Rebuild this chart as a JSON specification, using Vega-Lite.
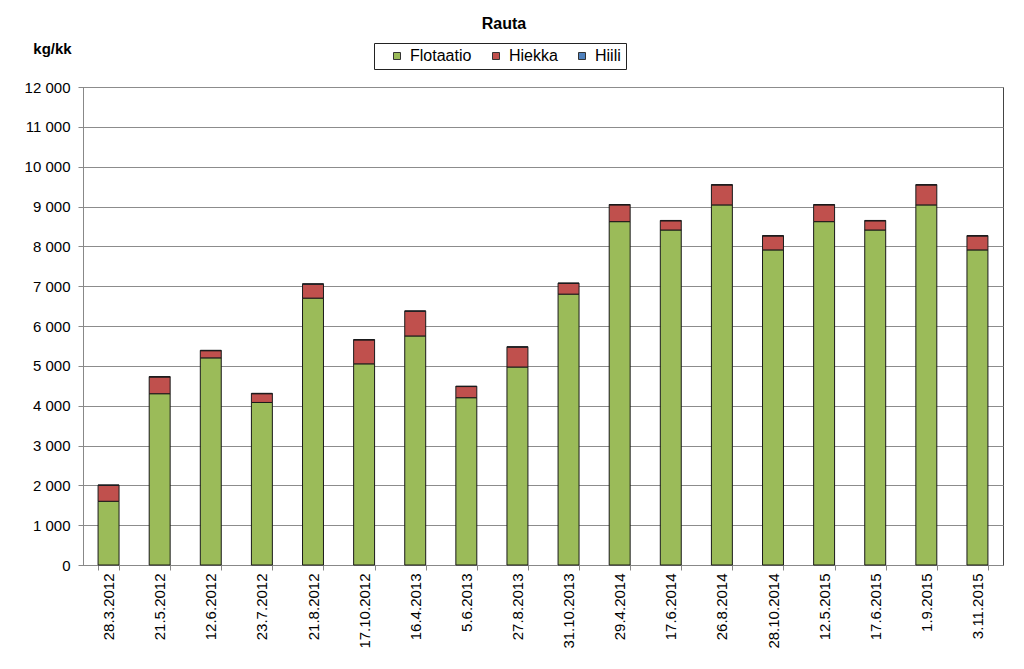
{
  "$schema": "https://vega.github.io/schema/vega-lite/v6.json",
  "autosize": {"type": "none"},
  "width": 920,
  "height": 478,
  "padding": {"left": 83, "top": 87, "right": 21, "bottom": 104},
  "background": "white",
  "title": {
    "text": "Rauta",
    "anchor": "middle",
    "dx": -39,
    "offset": -7,
    "baseline": "bottom",
    "font": "Liberation Sans",
    "fontSize": 16,
    "fontWeight": "bold",
    "color": "black"
  },
  "data": {
    "values": [
      {"date": "28.3.2012", "series": "Flotaatio", "value": 1600},
      {"date": "28.3.2012", "series": "Hiekka", "value": 400},
      {"date": "28.3.2012", "series": "Hiili", "value": 10},
      {"date": "21.5.2012", "series": "Flotaatio", "value": 4300},
      {"date": "21.5.2012", "series": "Hiekka", "value": 420},
      {"date": "21.5.2012", "series": "Hiili", "value": 10},
      {"date": "12.6.2012", "series": "Flotaatio", "value": 5200},
      {"date": "12.6.2012", "series": "Hiekka", "value": 180},
      {"date": "12.6.2012", "series": "Hiili", "value": 10},
      {"date": "23.7.2012", "series": "Flotaatio", "value": 4080},
      {"date": "23.7.2012", "series": "Hiekka", "value": 220},
      {"date": "23.7.2012", "series": "Hiili", "value": 10},
      {"date": "21.8.2012", "series": "Flotaatio", "value": 6700},
      {"date": "21.8.2012", "series": "Hiekka", "value": 350},
      {"date": "21.8.2012", "series": "Hiili", "value": 10},
      {"date": "17.10.2012", "series": "Flotaatio", "value": 5050},
      {"date": "17.10.2012", "series": "Hiekka", "value": 600},
      {"date": "17.10.2012", "series": "Hiili", "value": 10},
      {"date": "16.4.2013", "series": "Flotaatio", "value": 5750},
      {"date": "16.4.2013", "series": "Hiekka", "value": 620},
      {"date": "16.4.2013", "series": "Hiili", "value": 10},
      {"date": "5.6.2013", "series": "Flotaatio", "value": 4200},
      {"date": "5.6.2013", "series": "Hiekka", "value": 280},
      {"date": "5.6.2013", "series": "Hiili", "value": 10},
      {"date": "27.8.2013", "series": "Flotaatio", "value": 4970},
      {"date": "27.8.2013", "series": "Hiekka", "value": 500},
      {"date": "27.8.2013", "series": "Hiili", "value": 10},
      {"date": "31.10.2013", "series": "Flotaatio", "value": 6800},
      {"date": "31.10.2013", "series": "Hiekka", "value": 270},
      {"date": "31.10.2013", "series": "Hiili", "value": 10},
      {"date": "29.4.2014", "series": "Flotaatio", "value": 8620},
      {"date": "29.4.2014", "series": "Hiekka", "value": 420},
      {"date": "29.4.2014", "series": "Hiili", "value": 10},
      {"date": "17.6.2014", "series": "Flotaatio", "value": 8410},
      {"date": "17.6.2014", "series": "Hiekka", "value": 230},
      {"date": "17.6.2014", "series": "Hiili", "value": 10},
      {"date": "26.8.2014", "series": "Flotaatio", "value": 9040},
      {"date": "26.8.2014", "series": "Hiekka", "value": 500},
      {"date": "26.8.2014", "series": "Hiili", "value": 10},
      {"date": "28.10.2014", "series": "Flotaatio", "value": 7910},
      {"date": "28.10.2014", "series": "Hiekka", "value": 350},
      {"date": "28.10.2014", "series": "Hiili", "value": 10},
      {"date": "12.5.2015", "series": "Flotaatio", "value": 8620},
      {"date": "12.5.2015", "series": "Hiekka", "value": 420},
      {"date": "12.5.2015", "series": "Hiili", "value": 10},
      {"date": "17.6.2015", "series": "Flotaatio", "value": 8410},
      {"date": "17.6.2015", "series": "Hiekka", "value": 230},
      {"date": "17.6.2015", "series": "Hiili", "value": 10},
      {"date": "1.9.2015", "series": "Flotaatio", "value": 9040},
      {"date": "1.9.2015", "series": "Hiekka", "value": 500},
      {"date": "1.9.2015", "series": "Hiili", "value": 10},
      {"date": "3.11.2015", "series": "Flotaatio", "value": 7910},
      {"date": "3.11.2015", "series": "Hiekka", "value": 350},
      {"date": "3.11.2015", "series": "Hiili", "value": 10}
    ]
  },
  "mark": {"type": "bar", "stroke": "#1a1a1a", "strokeWidth": 1},
  "encoding": {
    "x": {
      "field": "date",
      "type": "nominal",
      "sort": null,
      "scale": {"paddingInner": 0.59, "paddingOuter": 0.295},
      "axis": {
        "title": null,
        "labelAngle": 270,
        "labelFont": "Liberation Sans",
        "labelFontSize": 15,
        "labelColor": "black",
        "labelPadding": 3,
        "tickBand": "extent",
        "tickSize": 5,
        "tickColor": "#888",
        "domainColor": "#888",
        "grid": false
      }
    },
    "y": {
      "field": "value",
      "type": "quantitative",
      "stack": "zero",
      "scale": {"domain": [0, 12000], "nice": false},
      "axis": {
        "values": [0, 1000, 2000, 3000, 4000, 5000, 6000, 7000, 8000, 9000, 10000, 11000, 12000],
        "labelExpr": "replace(format(datum.value, ','), ',', ' ')",
        "labelFont": "Liberation Sans",
        "labelFontSize": 15,
        "labelColor": "black",
        "labelPadding": 8,
        "tickSize": 5,
        "tickColor": "#888",
        "domainColor": "#888",
        "gridColor": "#8c8c8c",
        "gridWidth": 1,
        "title": "kg/kk",
        "titleAngle": 0,
        "titleX": -31,
        "titleY": -39,
        "titleAlign": "center",
        "titleBaseline": "middle",
        "titleFont": "Liberation Sans",
        "titleFontSize": 15,
        "titleFontWeight": "bold",
        "titleColor": "black"
      }
    },
    "color": {
      "field": "series",
      "type": "nominal",
      "scale": {
        "domain": ["Flotaatio", "Hiekka", "Hiili"],
        "range": ["#9BBB59", "#C0504D", "#4F81BD"]
      },
      "legend": {
        "title": null,
        "orient": "none",
        "direction": "horizontal",
        "legendX": 291,
        "legendY": -44,
        "padding": 5,
        "strokeColor": "#222",
        "fillColor": "white",
        "symbolType": "square",
        "symbolSize": 49,
        "symbolOffset": 10,
        "symbolStrokeColor": "#333",
        "symbolStrokeWidth": 1,
        "labelFont": "Liberation Sans",
        "labelFontSize": 16,
        "labelColor": "black",
        "labelOffset": 5,
        "columnPadding": 6,
        "labelExpr": "datum.label == 'Hiili' ? 'Hiili\u00a0\u00a0\u00a0' : datum.label"
      }
    },
    "order": {"field": "series", "type": "nominal", "sort": "ascending"}
  },
  "config": {
    "view": {"stroke": "#444", "strokeWidth": 1}
  }
}
